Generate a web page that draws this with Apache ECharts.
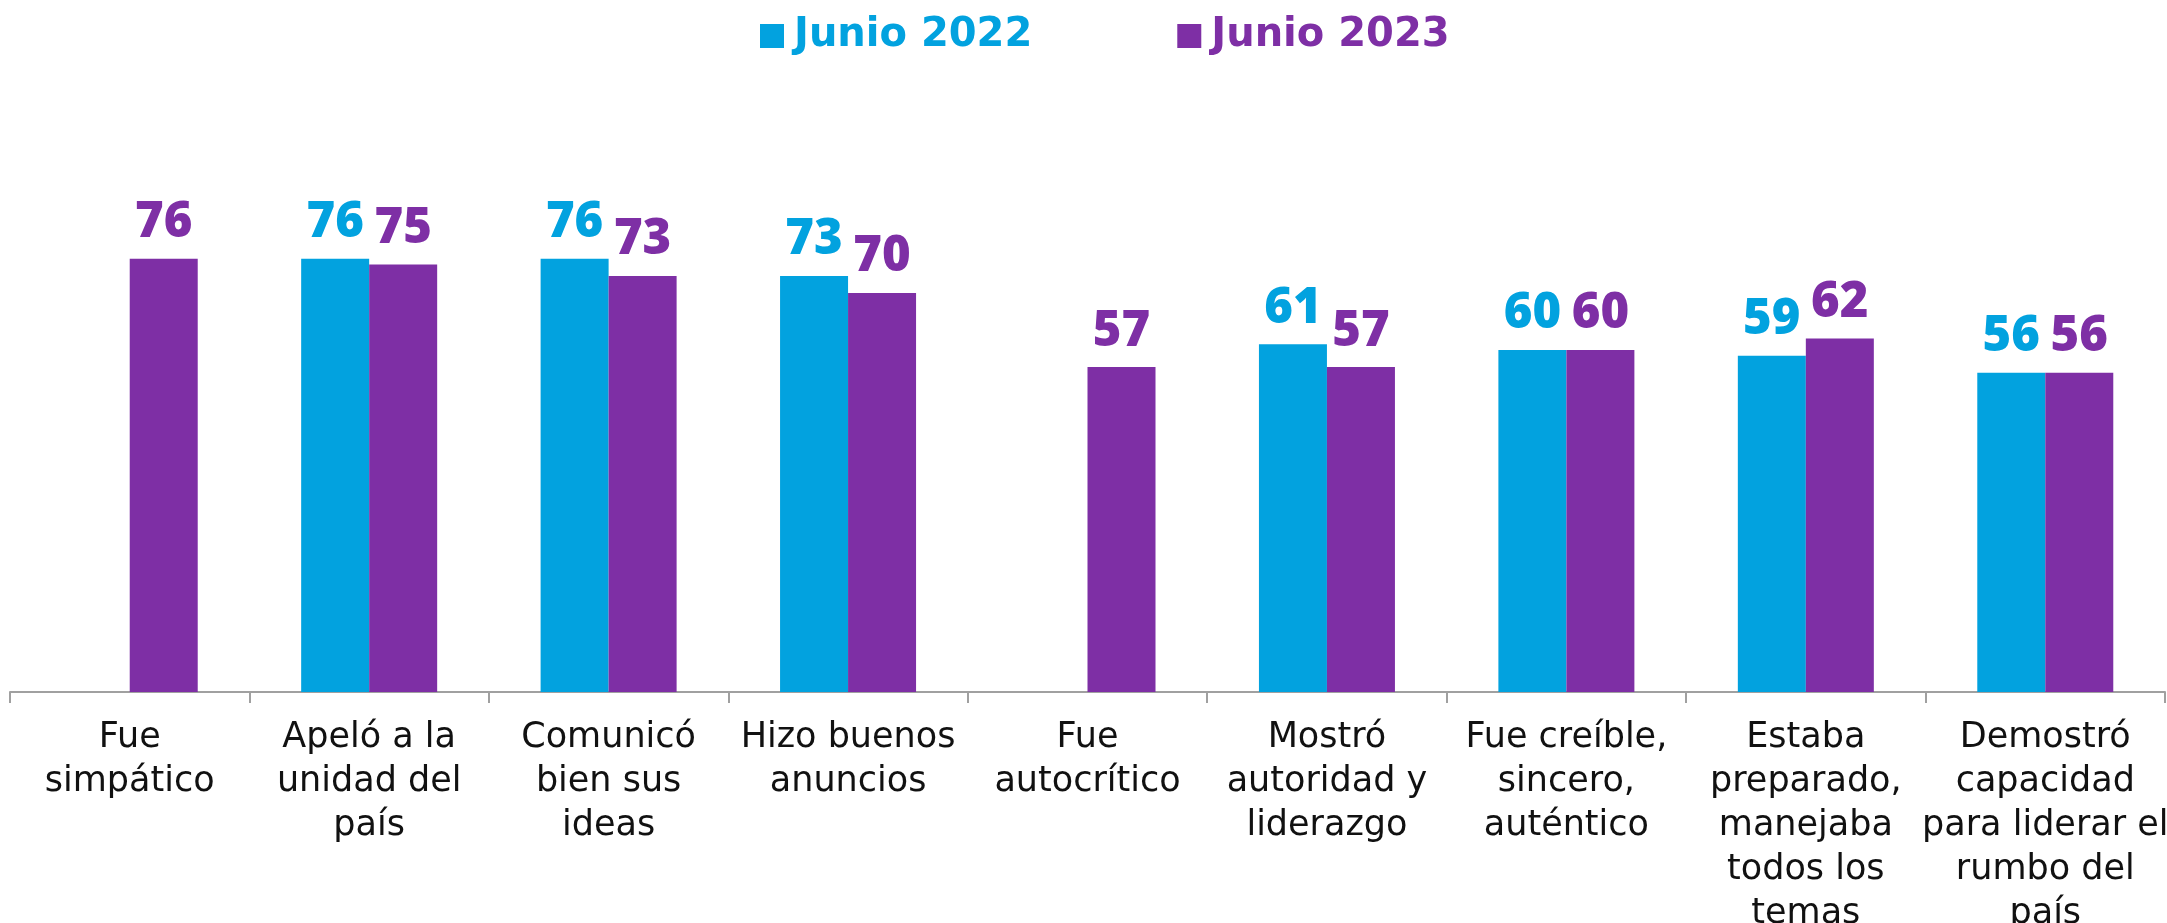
<!DOCTYPE html>
<html>
<head>
<meta charset="utf-8">
<style>
  html, body { margin: 0; padding: 0; background: #fff; }
  #chart { width: 2167px; height: 923px; }
</style>
<script src="https://cdn.jsdelivr.net/npm/echarts@6/dist/echarts.min.js"></script>
</head>
<body>
<div id="chart"></div>
<script>
// categories and values
const categories = [
    'Fue\nsimpático',
    'Apeló a la\nunidad del\npaís',
    'Comunicó\nbien sus\nideas',
    'Hizo buenos\nanuncios',
    'Fue\nautocrítico',
    'Mostró\nautoridad y\nliderazgo',
    'Fue creíble,\nsincero,\nauténtico',
    'Estaba\npreparado,\nmanejaba\ntodos los\ntemas',
    'Demostró\ncapacidad\npara liderar el\nrumbo del\npaís'
];
const junio2022 = [null, 76, 76, 73, null, 61, 60, 59, 56];
const junio2023 = [76, 75, 73, 70, 57, 57, 60, 62, 56];

const BLUE = '#02A2DF';
const PURPLE = '#7E2FA5';
const AXIS_GRAY = '#a0a0a0';

const chart = echarts.init(document.getElementById('chart'));

const valueLabel = color => ({
    show: true,
    position: 'top',
    distance: 11,
    color: color,
    fontFamily: 'Open Sans',
    fontWeight: 800,
    fontSize: 49
});

chart.setOption({
    animation: false,
    legend: {
        top: 11,
        left: 755,
        icon: 'rect',
        itemWidth: 24,
        itemHeight: 24,
        itemGap: 145,
        textStyle: {
            fontFamily: 'DejaVu Sans',
            fontWeight: 'bold',
            fontSize: 40,
            padding: [0, 0, 0, 5]
        },
        data: [
            { name: 'Junio 2022', textStyle: { color: BLUE } },
            { name: 'Junio 2023', textStyle: { color: PURPLE } }
        ]
    },
    grid: {
        left: 10, right: 2, top: 122, bottom: 231,
        containLabel: false,
        outerBoundsMode: 'none'
    },
    xAxis: {
        type: 'category',
        data: categories,
        axisLine: { show: true, lineStyle: { color: AXIS_GRAY, width: 2 } },
        axisTick: { show: true, length: 11, lineStyle: { color: AXIS_GRAY, width: 2 } },
        axisLabel: {
            interval: 0,
            margin: 24,
            color: '#111',
            fontFamily: 'DejaVu Sans',
            fontSize: 35,
            lineHeight: 44
        }
    },
    yAxis: {
        type: 'value',
        min: 0,
        max: 100,
        show: false,
        splitLine: { show: false }
    },
    series: [
        {
            name: 'Junio 2022',
            type: 'bar',
            data: junio2022,
            barWidth: 68,
            barGap: '0%',
            itemStyle: { color: BLUE },
            label: valueLabel(BLUE)
        },
        {
            name: 'Junio 2023',
            type: 'bar',
            data: junio2023,
            barWidth: 68,
            itemStyle: { color: PURPLE },
            label: valueLabel(PURPLE)
        }
    ]
});
window.addEventListener('resize', () => chart.resize());
</script>
</body>
</html>
